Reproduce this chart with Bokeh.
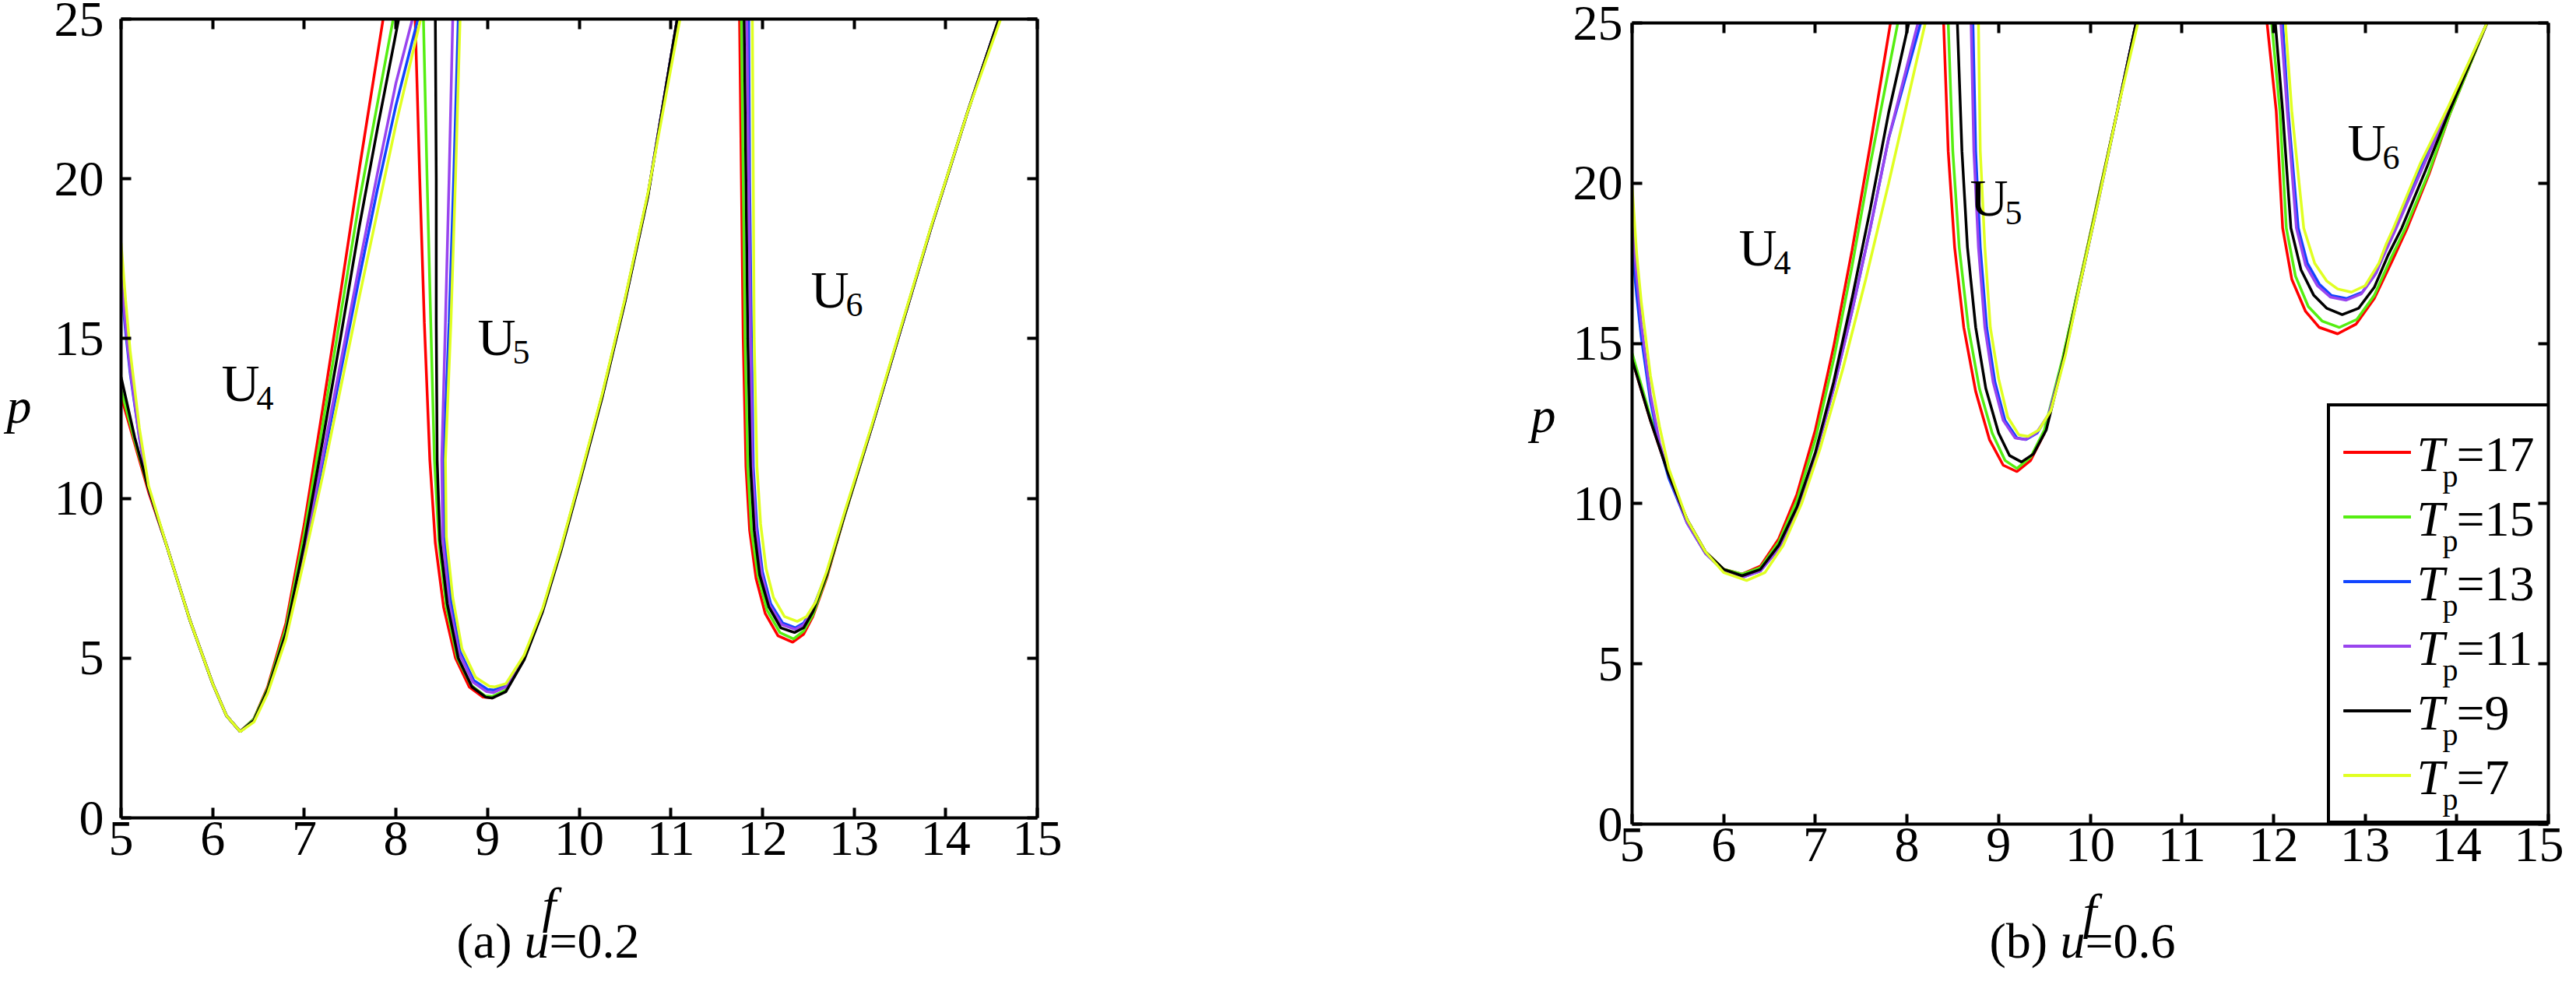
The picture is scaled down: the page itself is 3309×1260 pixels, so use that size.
import math
from bokeh.plotting import figure
from bokeh.models import Range1d, LinearAxis, Label, Legend, LegendItem, FixedTicker
from bokeh.core.properties import value
from bokeh.layouts import row, column
from bokeh.embed import file_html
from bokeh.resources import INLINE

# ---------------- data ----------------
T_P = [17, 15, 13, 11, 9, 7]
LEGEND_LABELS = ["17", "15", "13", "11", "9", "7"]
COLORS = ["#ff0000", "#55ee11", "#1144ff", "#9944ee", "#000000", "#e0ff22"]
X_TICKS = [5, 6, 7, 8, 9, 10, 11, 12, 13, 14, 15]
Y_TICKS = [0, 5, 10, 15, 20, 25]
CAPTIONS = [("(a) ", "u", "=0.2"), ("(b) ", "u", "=0.6")]

# panel (a) u = 0.2, rows follow T_P
A_U4_F = [
    [5.0, 5.15, 5.3, 5.5, 5.75, 6.0, 6.15, 6.3, 6.45, 6.6, 6.8, 7.0, 7.2, 7.4, 7.6, 7.86],
    [5.0, 5.15, 5.3, 5.5, 5.75, 6.0, 6.15, 6.3, 6.45, 6.6, 6.8, 7.0, 7.2, 7.4, 7.6, 7.97],
    [5.0, 5.05, 5.1, 5.2, 5.3, 5.5, 5.75, 6.0, 6.15, 6.3, 6.45, 6.6, 6.8, 7.0, 7.2, 7.4, 7.6, 7.8, 8.0, 8.24],
    [5.0, 5.05, 5.1, 5.2, 5.3, 5.5, 5.75, 6.0, 6.15, 6.3, 6.45, 6.6, 6.8, 7.0, 7.2, 7.4, 7.6, 7.8, 8.0, 8.18],
    [5.0, 5.15, 5.3, 5.5, 5.75, 6.0, 6.15, 6.3, 6.45, 6.6, 6.8, 7.0, 7.2, 7.4, 7.6, 7.8, 8.03],
    [5.0, 5.05, 5.1, 5.2, 5.3, 5.5, 5.75, 6.0, 6.15, 6.3, 6.45, 6.6, 6.8, 7.0, 7.2, 7.4, 7.6, 7.8, 8.0, 8.27],
]
A_U4_P = [
    [13.2, 11.7, 10.2, 8.5, 6.2, 4.2, 3.2, 2.7, 3.1, 4.1, 6.1, 9.2, 12.8, 16.5, 20.3, 25.0],
    [13.4, 11.8, 10.3, 8.5, 6.2, 4.2, 3.2, 2.7, 3.1, 4.05, 5.95, 8.9, 12.3, 15.8, 19.3, 25.0],
    [16.7, 15.2, 13.9, 11.9, 10.3, 8.5, 6.2, 4.2, 3.2, 2.7, 3.05, 3.95, 5.7, 8.3, 11.1, 14.0, 16.9, 19.7, 22.3, 25.0],
    [17.0, 15.4, 14.0, 11.9, 10.3, 8.5, 6.2, 4.2, 3.2, 2.7, 3.05, 3.95, 5.75, 8.4, 11.3, 14.3, 17.3, 20.2, 23.0, 25.0],
    [13.8, 11.9, 10.3, 8.5, 6.2, 4.2, 3.2, 2.7, 3.05, 4.0, 5.8, 8.6, 11.8, 15.1, 18.5, 21.6, 25.0],
    [18.0, 16.2, 14.6, 12.2, 10.4, 8.5, 6.2, 4.2, 3.2, 2.7, 3.0, 3.9, 5.6, 8.1, 10.7, 13.5, 16.3, 19.0, 21.7, 25.0],
]
A_U5_F = [
    [8.21, 8.26, 8.31, 8.37, 8.43, 8.52, 8.65, 8.8, 8.95, 9.05, 9.2, 9.4, 9.6, 9.8, 10.0, 10.25, 10.5, 10.75, 11.07],
    [8.30, 8.34, 8.38, 8.42, 8.47, 8.55, 8.67, 8.82, 8.97, 9.05, 9.2, 9.4, 9.6, 9.8, 10.0, 10.25, 10.5, 10.75, 11.07],
    [8.68, 8.63, 8.58, 8.52, 8.53, 8.6, 8.7, 8.85, 9.0, 9.07, 9.2, 9.4, 9.6, 9.8, 10.0, 10.25, 10.5, 10.75, 11.07],
    [8.62, 8.58, 8.54, 8.5, 8.51, 8.58, 8.69, 8.84, 8.99, 9.06, 9.2, 9.4, 9.6, 9.8, 10.0, 10.25, 10.5, 10.75, 11.07],
    [8.43, 8.44, 8.44, 8.45, 8.48, 8.56, 8.68, 8.83, 8.98, 9.05, 9.2, 9.4, 9.6, 9.8, 10.0, 10.25, 10.5, 10.75, 11.07],
    [8.70, 8.65, 8.60, 8.54, 8.55, 8.62, 8.72, 8.87, 9.02, 9.08, 9.2, 9.4, 9.6, 9.8, 10.0, 10.25, 10.5, 10.75, 11.1],
]
A_U5_P = [
    [25, 20, 15.5, 11.2, 8.6, 6.6, 5.0, 4.1, 3.78, 3.75, 4.0, 5.0, 6.5, 8.4, 10.5, 13.2, 16.2, 19.5, 25],
    [25, 20, 15.5, 11.2, 8.6, 6.6, 5.0, 4.15, 3.82, 3.8, 4.0, 5.0, 6.5, 8.4, 10.5, 13.2, 16.2, 19.5, 25],
    [25, 20, 15.5, 11.2, 8.8, 6.8, 5.2, 4.3, 4.02, 4.0, 4.15, 5.05, 6.5, 8.4, 10.5, 13.2, 16.2, 19.5, 25],
    [25, 20, 15.5, 11.2, 8.75, 6.75, 5.15, 4.25, 3.95, 3.92, 4.1, 5.02, 6.5, 8.4, 10.5, 13.2, 16.2, 19.5, 25],
    [25, 20, 15.5, 11.2, 8.7, 6.7, 5.0, 4.1, 3.78, 3.75, 3.95, 4.95, 6.45, 8.35, 10.45, 13.15, 16.15, 19.45, 25],
    [25, 20, 15.5, 11.2, 8.8, 6.9, 5.3, 4.4, 4.12, 4.1, 4.2, 5.1, 6.55, 8.45, 10.55, 13.25, 16.25, 19.55, 25],
]
A_U6_F = [
    [11.75, 11.77, 11.79, 11.82, 11.86, 11.93, 12.03, 12.17, 12.33, 12.45, 12.55, 12.7, 12.9, 13.2, 13.5, 13.84, 14.24, 14.58],
    [11.77, 11.79, 11.81, 11.84, 11.88, 11.95, 12.05, 12.19, 12.34, 12.45, 12.55, 12.7, 12.9, 13.2, 13.5, 13.84, 14.24, 14.58],
    [11.85, 11.86, 11.88, 11.9, 11.94, 12.0, 12.09, 12.22, 12.36, 12.45, 12.55, 12.7, 12.9, 13.2, 13.5, 13.84, 14.24, 14.58],
    [11.83, 11.85, 11.87, 11.89, 11.93, 11.99, 12.08, 12.21, 12.36, 12.45, 12.55, 12.7, 12.9, 13.2, 13.5, 13.84, 14.24, 14.58],
    [11.80, 11.82, 11.84, 11.87, 11.91, 11.97, 12.07, 12.2, 12.35, 12.45, 12.55, 12.7, 12.9, 13.2, 13.5, 13.84, 14.24, 14.58],
    [11.89, 11.9, 11.91, 11.94, 11.98, 12.04, 12.12, 12.24, 12.38, 12.48, 12.58, 12.7, 12.9, 13.2, 13.5, 13.84, 14.24, 14.6],
]
A_U6_P = [
    [25, 20, 15, 11, 9, 7.5, 6.4, 5.7, 5.5, 5.75, 6.3, 7.5, 9.5, 12.3, 15.2, 18.47, 22.1, 25],
    [25, 20, 15, 11, 9, 7.6, 6.5, 5.8, 5.6, 5.85, 6.35, 7.55, 9.5, 12.3, 15.2, 18.47, 22.1, 25],
    [25, 20, 15, 11, 9.1, 7.7, 6.7, 6.1, 5.95, 6.1, 6.55, 7.65, 9.55, 12.3, 15.2, 18.47, 22.1, 25],
    [25, 20, 15, 11, 9.05, 7.65, 6.65, 6.05, 5.9, 6.05, 6.5, 7.62, 9.55, 12.3, 15.2, 18.47, 22.1, 25],
    [25, 20, 15, 11, 9, 7.6, 6.6, 5.95, 5.8, 5.95, 6.45, 7.6, 9.52, 12.3, 15.2, 18.47, 22.1, 25],
    [25, 20, 15, 11, 9.2, 7.8, 6.9, 6.3, 6.15, 6.3, 6.75, 7.7, 9.6, 12.35, 15.25, 18.5, 22.1, 25],
]

# panel (b) u = 0.6
B_U4_F = [
    [5.0, 5.2, 5.4, 5.6, 5.8, 6.0, 6.2, 6.4, 6.6, 6.8, 7.0, 7.2, 7.4, 7.6, 7.82],
    [5.0, 5.2, 5.4, 5.6, 5.8, 6.0, 6.2, 6.4, 6.6, 6.8, 7.0, 7.2, 7.4, 7.6, 7.9],
    [5.0, 5.05, 5.1, 5.2, 5.3, 5.4, 5.6, 5.8, 6.0, 6.2, 6.4, 6.6, 6.8, 7.0, 7.2, 7.4, 7.6, 7.8, 8.15],
    [5.0, 5.05, 5.1, 5.2, 5.3, 5.4, 5.6, 5.8, 6.0, 6.2, 6.4, 6.6, 6.8, 7.0, 7.2, 7.4, 7.6, 7.8, 8.12],
    [5.0, 5.2, 5.4, 5.6, 5.8, 6.0, 6.2, 6.4, 6.6, 6.8, 7.0, 7.2, 7.4, 7.6, 7.8, 8.02],
    [5.0, 5.05, 5.1, 5.2, 5.3, 5.4, 5.6, 5.8, 6.0, 6.25, 6.45, 6.65, 6.85, 7.05, 7.3, 7.55, 7.8, 8.2],
]
B_U4_P = [
    [14.5, 12.6, 10.9, 9.5, 8.5, 7.95, 7.8, 8.05, 8.9, 10.3, 12.3, 14.9, 17.9, 21.2, 25],
    [14.7, 12.7, 10.95, 9.5, 8.5, 7.95, 7.8, 8.0, 8.8, 10.1, 12.0, 14.5, 17.4, 20.6, 25],
    [18.0, 16.5, 15.2, 13.2, 11.8, 10.8, 9.4, 8.45, 7.9, 7.7, 7.9, 8.6, 9.8, 11.5, 13.6, 16.0, 18.6, 21.4, 25],
    [18.8, 17.1, 15.6, 13.4, 11.9, 10.9, 9.4, 8.45, 7.9, 7.7, 7.9, 8.6, 9.8, 11.5, 13.6, 16.0, 18.6, 21.4, 25],
    [14.5, 12.6, 10.9, 9.5, 8.5, 7.95, 7.75, 7.95, 8.7, 9.9, 11.6, 13.8, 16.4, 19.2, 22.2, 25],
    [19.9, 17.8, 16.3, 14.0, 12.4, 11.1, 9.5, 8.5, 7.85, 7.6, 7.85, 8.7, 10.0, 11.7, 14.2, 17.0, 20.0, 25],
]
B_U5_F = [
    [8.4, 8.45, 8.52, 8.62, 8.75, 8.9, 9.05, 9.2, 9.35, 9.5, 9.7, 9.9, 10.1, 10.3, 10.5],
    [8.45, 8.5, 8.57, 8.67, 8.79, 8.93, 9.07, 9.2, 9.35, 9.5, 9.7, 9.9, 10.1, 10.3, 10.5],
    [8.72, 8.75, 8.8, 8.87, 8.96, 9.07, 9.2, 9.3, 9.42, 9.55, 9.72, 9.9, 10.1, 10.3, 10.5],
    [8.7, 8.73, 8.78, 8.85, 8.94, 9.05, 9.18, 9.29, 9.41, 9.55, 9.72, 9.9, 10.1, 10.3, 10.5],
    [8.55, 8.6, 8.66, 8.75, 8.86, 9.0, 9.12, 9.25, 9.38, 9.52, 9.7, 9.9, 10.1, 10.3, 10.5],
    [8.78, 8.8, 8.85, 8.91, 9.0, 9.1, 9.22, 9.32, 9.44, 9.57, 9.73, 9.9, 10.1, 10.3, 10.52],
]
B_U5_P = [
    [25, 21, 18, 15.5, 13.5, 12.0, 11.2, 11.0, 11.35, 12.2, 14.5, 17.1, 19.7, 22.3, 25],
    [25, 21, 18, 15.5, 13.6, 12.2, 11.35, 11.1, 11.45, 12.3, 14.55, 17.1, 19.7, 22.3, 25],
    [25, 21, 18, 15.5, 13.8, 12.6, 12.05, 12.0, 12.2, 12.8, 14.6, 17.0, 19.6, 22.3, 25],
    [25, 21, 18, 15.5, 13.8, 12.6, 12.05, 12.0, 12.2, 12.8, 14.6, 17.0, 19.6, 22.3, 25],
    [25, 21, 18, 15.5, 13.6, 12.2, 11.5, 11.3, 11.55, 12.3, 14.4, 17.0, 19.65, 22.3, 25],
    [25, 21, 18, 15.5, 13.9, 12.7, 12.15, 12.1, 12.3, 12.9, 14.65, 17.0, 19.6, 22.3, 25],
]
B_U6_F = [
    [11.93, 12.03, 12.10, 12.2, 12.35, 12.5, 12.7, 12.9, 13.1, 13.3, 13.46, 13.7, 13.93, 14.33],
    [11.98, 12.07, 12.14, 12.24, 12.38, 12.53, 12.72, 12.91, 13.1, 13.28, 13.44, 13.69, 13.93, 14.33],
    [12.10, 12.16, 12.27, 12.37, 12.5, 12.63, 12.8, 12.97, 13.12, 13.22, 13.33, 13.62, 13.91, 14.33],
    [12.08, 12.15, 12.25, 12.35, 12.48, 12.62, 12.79, 12.96, 13.11, 13.22, 13.34, 13.63, 13.91, 14.33],
    [12.02, 12.1, 12.19, 12.3, 12.44, 12.58, 12.75, 12.93, 13.1, 13.25, 13.4, 13.66, 13.92, 14.33],
    [12.13, 12.2, 12.33, 12.45, 12.58, 12.7, 12.85, 13.0, 13.15, 13.23, 13.31, 13.6, 13.91, 14.33],
]
B_U6_P = [
    [25, 22.25, 18.6, 17.0, 16.0, 15.5, 15.3, 15.6, 16.4, 17.6, 18.6, 20.3, 22.2, 25],
    [25, 22.25, 18.6, 17.1, 16.15, 15.7, 15.5, 15.75, 16.5, 17.65, 18.6, 20.3, 22.2, 25],
    [25, 22.25, 18.6, 17.5, 16.85, 16.5, 16.4, 16.6, 17.2, 17.9, 18.6, 20.55, 22.35, 25],
    [25, 22.25, 18.6, 17.45, 16.8, 16.45, 16.35, 16.55, 17.15, 17.85, 18.6, 20.5, 22.3, 25],
    [25, 22.25, 18.6, 17.3, 16.5, 16.1, 15.9, 16.1, 16.75, 17.75, 18.6, 20.4, 22.25, 25],
    [25, 22.25, 18.6, 17.5, 16.95, 16.7, 16.6, 16.8, 17.5, 18.1, 18.6, 20.6, 22.4, 25],
]

# ---------------- layout / style ----------------
FONT = "Liberation Serif"
ASC = 0.891  # ascent of the font, in em
TICK_SIZE = "64px"
AX_W = 4
PAGE = 8  # body margin


def style_axis(ax, ticks, labels, standoff):
    ax.ticker = FixedTicker(ticks=ticks)
    ax.axis_line_width = AX_W
    ax.axis_line_color = "black"
    ax.major_tick_line_width = AX_W
    ax.major_tick_line_color = "black"
    ax.major_tick_in = 13
    ax.major_tick_out = 0
    ax.minor_tick_line_color = None
    ax.major_label_text_font = FONT
    ax.major_label_standoff = standoff
    if labels:
        ax.major_label_text_font_size = TICK_SIZE
        ax.major_label_text_color = "black"
    else:
        ax.major_label_text_font_size = "1px"
        ax.major_label_text_color = None


def make_panel(width, height, bl, br, bt, bb, fs, ps, ylab_std):
    p = figure(width=width, height=height, title=None,
               x_range=Range1d(X_TICKS[0], X_TICKS[-1]),
               y_range=Range1d(Y_TICKS[0], Y_TICKS[-1]),
               output_backend="svg", toolbar_location=None,
               x_axis_location=None, y_axis_location=None,
               min_border_left=bl, min_border_right=br,
               min_border_top=bt, min_border_bottom=bb)
    p.outline_line_color = None
    p.grid.visible = False
    for loc in ["below", "above", "left", "right"]:
        ax = LinearAxis()
        horiz = loc in ("below", "above")
        style_axis(ax, X_TICKS if horiz else Y_TICKS, loc in ("below", "left"),
                   ylab_std if loc == "left" else 5)
        p.add_layout(ax, loc)
    rends = []
    for i, col in enumerate(COLORS):
        group = []
        for F, P in zip(fs, ps):
            group.append(p.line(F[i], P[i], line_color=col, line_width=3.5))
        rends.append(group)
    return p, rends


def text_fig(w, h):
    f = figure(width=w, height=h, title=None, x_range=Range1d(0, w), y_range=Range1d(0, h),
               output_backend="svg", toolbar_location=None,
               x_axis_location=None, y_axis_location=None, min_border=0)
    f.outline_line_color = None
    f.grid.visible = False
    return f


def put(fig, origin, xpx, base_px, text, size, style="normal", align="left",
        angle=0.0, data_frame=None, baseline="top"):
    """Place a text whose alphabetic baseline is at page pixel base_px
    (anchored by its top so that the placement is exact)."""
    ypx = base_px - ASC * size if baseline == "top" else base_px
    if data_frame is not None:
        l, t, r, b = data_frame
        x = X_TICKS[0] + (xpx - l) / (r - l) * (X_TICKS[-1] - X_TICKS[0])
        y = Y_TICKS[0] + (b - ypx) / (b - t) * (Y_TICKS[-1] - Y_TICKS[0])
    else:
        ox, oy, h = origin
        x = xpx - ox
        y = h - (ypx - oy)
    fig.add_layout(Label(x=x, y=y, text=text, text_font=FONT,
                         text_font_size=f"{size}px", text_font_style=style,
                         text_align=align, text_baseline=baseline, angle=angle,
                         text_color="black"))


# geometry (page pixels)
FRAME_A = (163, 32, 1340, 1058)
FRAME_B = (2104, 37, 3281, 1066)
WPA, WFA, HA = 60, 1636, 1126
WPB, WFB, HB = 320, 1277, 1134
TOTAL_H = 1244

bl_a = FRAME_A[0] - PAGE - WPA
pa, rends_a = make_panel(WFA, HA, bl_a, WFA - bl_a - (FRAME_A[2] - FRAME_A[0]),
                         FRAME_A[1] - PAGE, HA - (FRAME_A[3] - PAGE),
                         [A_U4_F, A_U5_F, A_U6_F], [A_U4_P, A_U5_P, A_U6_P], 22)
XB0 = PAGE + WPA + WFA  # left edge of the (b) group
bl_b = FRAME_B[0] - XB0 - WPB
pb, rends_b = make_panel(WFB, HB, bl_b, WFB - bl_b - (FRAME_B[2] - FRAME_B[0]),
                         FRAME_B[1] - PAGE, HB - (FRAME_B[3] - PAGE),
                         [B_U4_F, B_U5_F, B_U6_F], [B_U4_P, B_U5_P, B_U6_P], 12)

# y-axis titles (upright italic p beside each frame)
ya = text_fig(WPA, HA)
put(ya, (PAGE, PAGE, HA), 32, 571, "p", 64, style="italic", align="center")
yb = text_fig(WPB, HB)
put(yb, (XB0, PAGE, HB), 1990, 581, "p", 64, style="italic", align="center")

# x-axis titles and captions
ca = text_fig(WPA + WFA, TOTAL_H - HA)
cb = text_fig(WPB + WFB, TOTAL_H - HB)
for fig, org, fx, cap, cx, w0 in [
    (ca, (PAGE, PAGE + HA, TOTAL_H - HA), 704, CAPTIONS[0], 594, 87),
    (cb, (XB0, PAGE + HB, TOTAL_H - HB), 2683, CAPTIONS[1], 2563, 91),
]:
    put(fig, org, fx, org[1] + ASC * 64, "f", 64, style="italic")
    put(fig, org, cx, 1238, cap[0], 64)
    put(fig, org, cx + w0, 1238, cap[1], 64, style="italic")
    put(fig, org, cx + w0 + 32, 1238, cap[2], 64)

# tongue labels U4, U5, U6
for p, fr, items in [
    (pa, FRAME_A, [(292, 522, "4"), (621, 463, "5"), (1049, 402, "6")]),
    (pb, FRAME_B, [(2241, 348, "4"), (2538, 284, "5"), (3023, 213, "6")]),
]:
    for x, y, s in items:
        put(p, None, x, y, "U", 68, data_frame=fr)
        put(p, None, x + 45, y + 22, s, 44, data_frame=fr)

# legend in panel (b)
items = [LegendItem(label=value(" "), renderers=g) for g in rends_b]
leg = Legend(items=items, location=(893, 0), orientation="vertical",
             glyph_width=87, glyph_height=83, label_height=83, label_width=153,
             label_standoff=10, spacing=0, padding=17, margin=0,
             border_line_color="black", border_line_width=4, border_line_alpha=1.0,
             background_fill_alpha=0.0,
             label_text_font_size="1px", label_text_color=None)
pb.add_layout(leg)
for i, lab in enumerate(LEGEND_LABELS):
    yc = 534 + 17 + 83 * (i + 0.5)
    put(pb, None, 3112, yc + 20, "T", 64, style="italic", data_frame=FRAME_B)
    put(pb, None, 3145, yc + 40, "p", 40, data_frame=FRAME_B)
    put(pb, None, 3163, yc + 20, "=" + lab, 64, data_frame=FRAME_B)

layout = row(column(row(ya, pa), ca), column(row(yb, pb), cb))
open("out.html", "w").write(file_html(layout, INLINE))
